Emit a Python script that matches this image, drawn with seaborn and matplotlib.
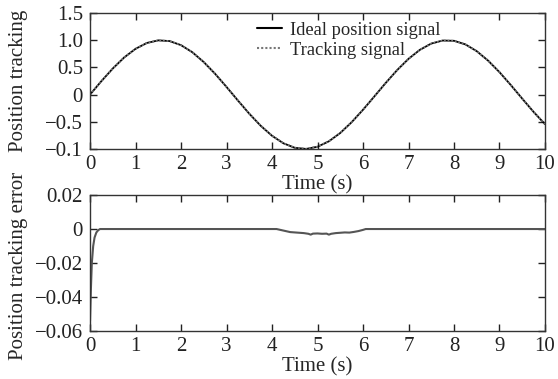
import numpy as np
import pandas as pd
import matplotlib
matplotlib.use("Agg")
import matplotlib.pyplot as plt
import seaborn as sns

# ---- data ----
time_pos = [0.0, 0.25, 0.5, 0.75, 1.0, 1.25, 1.5, 1.75, 2.0, 2.25, 2.5, 2.75, 3.0, 3.25,
            3.5, 3.75, 4.0, 4.25, 4.5, 4.75, 5.0, 5.25, 5.5, 5.75, 6.0, 6.25, 6.5, 6.75,
            7.0, 7.25, 7.5, 7.75, 8.0, 8.25, 8.5, 8.75, 9.0, 9.25, 9.5, 9.75, 10.0]
ideal_pos = [0.0, 0.247, 0.479, 0.682, 0.841, 0.949, 0.997, 0.984, 0.909, 0.778, 0.598,
             0.382, 0.141, -0.108, -0.351, -0.572, -0.757, -0.895, -0.978, -0.999, -0.959,
             -0.859, -0.706, -0.508, -0.279, -0.033, 0.215, 0.450, 0.657, 0.823, 0.938,
             0.994, 0.989, 0.923, 0.798, 0.624, 0.412, 0.174, -0.075, -0.319, -0.544]
tracking_pos = [0.0, 0.247, 0.479, 0.682, 0.841, 0.949, 0.997, 0.984, 0.909, 0.778, 0.598,
                0.382, 0.141, -0.108, -0.350, -0.570, -0.755, -0.893, -0.976, -0.997, -0.957,
                -0.857, -0.704, -0.507, -0.279, -0.033, 0.215, 0.450, 0.657, 0.823, 0.938,
                0.994, 0.989, 0.923, 0.798, 0.624, 0.412, 0.174, -0.075, -0.319, -0.544]

time_err = [0.0, 0.02, 0.04, 0.07, 0.1, 0.14, 0.18, 0.22, 0.3, 4.1, 4.2, 4.3, 4.4, 4.5,
            4.6, 4.7, 4.8, 4.85, 4.9, 5.0, 5.1, 5.2, 5.25, 5.3, 5.4, 5.5, 5.6, 5.7, 5.8,
            5.9, 6.0, 6.06, 10.0]
error = [-0.054, -0.035, -0.02, -0.01, -0.005, -0.002, -0.0007, 0.0, 0.0, 0.0, -0.0006,
         -0.0012, -0.0018, -0.002, -0.0022, -0.0024, -0.0028, -0.0033, -0.0027, -0.0026,
         -0.0028, -0.0027, -0.0033, -0.0028, -0.0024, -0.0022, -0.002, -0.0021, -0.0017,
         -0.0012, -0.0005, 0.0, 0.0]

x_ticks = [0, 1, 2, 3, 4, 5, 6, 7, 8, 9, 10]
top_yticks = [-1.0, -0.5, 0.0, 0.5, 1.0, 1.5]
top_yticklabels = ["\u22120.1", "\u22120.5", "0", "0.5", "1.0", "1.5"]
bot_yticks = [-0.06, -0.04, -0.02, 0.0, 0.02]
bot_yticklabels = ["\u22120.06", "\u22120.04", "\u22120.02", "0", "0.02"]

# ---- style ----
sns.set_theme(style="ticks")
plt.rcParams["font.family"] = ["Liberation Serif", "DejaVu Serif"]
plt.rcParams["font.size"] = 15
plt.rcParams["axes.linewidth"] = 1.0
plt.rcParams["axes.edgecolor"] = "#333333"

fig = plt.figure(figsize=(5.58, 3.79), dpi=100)
ax1 = fig.add_axes([0.1613, 0.6069, 0.8154, 0.3588])
ax2 = fig.add_axes([0.1613, 0.1266, 0.8154, 0.3588])

df_pos = pd.DataFrame({"t": time_pos, "ideal": ideal_pos, "track": tracking_pos})
df_err = pd.DataFrame({"t": time_err, "err": error})

sns.lineplot(data=df_pos, x="t", y="ideal", ax=ax1, color="black", lw=1.3,
             label="Ideal position signal")
sns.lineplot(data=df_pos, x="t", y="track", ax=ax1, color="#777777", lw=1.3,
             linestyle=(0, (1, 1)), label="Tracking signal")
sns.lineplot(data=df_err, x="t", y="err", ax=ax2, color="#555555", lw=1.5)

for ax in (ax1, ax2):
    ax.set_xlim(0, 10)
    ax.set_xticks(x_ticks)
    ax.set_xticklabels([str(v) for v in x_ticks])
    ax.tick_params(direction="in", top=True, right=True, length=5, width=1,
                   labelsize=15, colors="#222222")
    ax.tick_params(axis="x", pad=4)
    ax.tick_params(axis="y", pad=5)
    ax.set_xlabel("Time (s)", fontsize=15, labelpad=1)
    for s in ax.spines.values():
        s.set_visible(True)
        s.set_color("#333333")

ax1.set_ylim(-1.0, 1.5)
ax1.set_yticks(top_yticks)
ax1.set_yticklabels(top_yticklabels)
ax1.set_ylabel("Position tracking", fontsize=15)
ax1.yaxis.set_label_coords(-0.137, 0.5)

ax2.set_ylim(-0.06, 0.02)
ax2.set_yticks(bot_yticks)
ax2.set_yticklabels(bot_yticklabels)
ax2.set_ylabel("Position tracking error", fontsize=15)
ax2.yaxis.set_label_coords(-0.137, 0.48)

leg = ax1.legend(loc="upper left", bbox_to_anchor=(0.367, 0.935), frameon=False,
                 fontsize=13.3, handlelength=1.35, handletextpad=0.45, labelspacing=0.15,
                 borderaxespad=0, borderpad=0)
for h in leg.get_lines():
    h.set_linewidth(1.5)

fig.savefig("out.png", dpi=100)
